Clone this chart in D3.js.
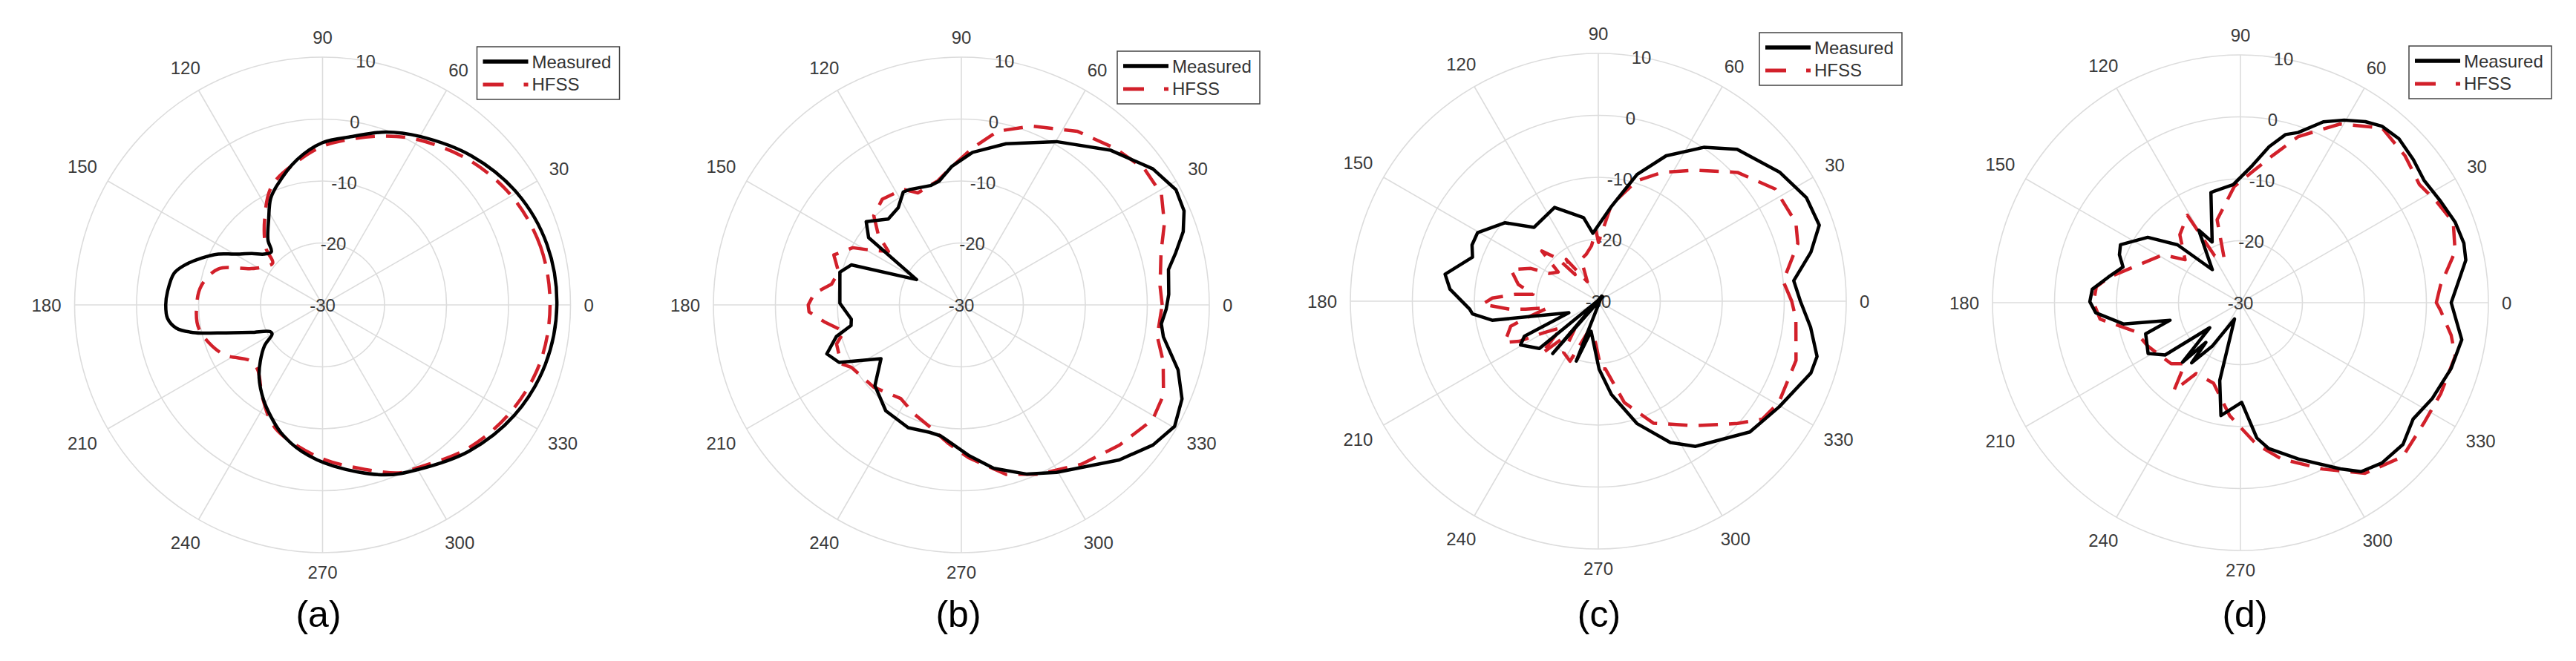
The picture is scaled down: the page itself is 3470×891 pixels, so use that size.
<!DOCTYPE html>
<html>
<head>
<meta charset="utf-8">
<script src="https://cdn.jsdelivr.net/npm/d3@7"></script>
<style>
  body { margin: 0; background: #fff; }
  svg { display: block; }
  text { font-family: "Liberation Sans", Arial, Helvetica, sans-serif; }
</style>
</head>
<body>
<script>
// [angle in degrees, gain in dB]
const measA = [[0,7.8],[15,7.5],[30,6.2],[45,4.0],[60,1.4],[70,-0.3],[80,-2.4],[90,-3.8],[100,-6.2],[111,-9.4],[116,-10.9],[122,-13.6],[130,-16.3],[134,-18.1],[139,-17.5],[144,-15.9],[150,-13.6],[154,-11.3],[159,-9.0],[164,-6.8],[168,-5.5],[175,-4.9],[180,-4.7],[185,-4.9],[189,-6.1],[192,-8.6],[195,-12.5],[201,-17.6],[207,-20.5],[210,-20.6],[215,-18.6],[222,-16.5],[229,-14.4],[238,-12.0],[245,-10.2],[252,-8.3],[262,-6.1],[274,-3.9],[290,-0.8],[300,0.7],[315,3.4],[330,5.7],[345,7.2]];
const hfssA = [[0,6.7],[15,6.4],[30,5.2],[45,3.2],[60,0.8],[70,-1.0],[80,-2.8],[90,-4.4],[100,-6.5],[113,-9.1],[124,-13.3],[135,-17.1],[140,-19.5],[148,-18.5],[153,-17.1],[161,-12.2],[171,-10.2],[180,-9.7],[191,-9.7],[206,-12.0],[218,-15.3],[225,-15.2],[237,-12.2],[249,-8.7],[268,-5.5],[282,-3.1],[295,-0.1],[300,0.4],[315,2.9],[330,4.9],[345,6.3]];

const measB = [[2.9,3.5],[9.7,3.9],[13.7,5.6],[18.3,7.7],[22.9,9.0],[28.2,9.3],[35.4,7.9],[46,4.7],[59.8,0.5],[74.5,-3.0],[85.8,-5.3],[94,-7.6],[100.2,-9.7],[104.5,-10.1],[114,-9.6],[117.2,-9.5],[123,-11.3],[130.4,-11.8],[138.8,-9.6],[144,-11.5],[150.5,-21.7],[160,-11.1],[164.9,-9.7],[179.2,-10.4],[187.4,-12.1],[190.6,-11.9],[194.2,-9.2],[200,-6.9],[205.2,-8.2],[213.8,-14.4],[223.1,-10.9],[234.5,-9.0],[246.6,-8.4],[256,-8.8],[261,-8.6],[272.7,-5.7],[281.2,-3.1],[291.2,-0.7],[299.6,1.1],[315.5,5.7],[323.8,8.3],[330.3,9.6],[336.9,8.7],[343.3,6.5],[351,3.0],[354.6,2.4],[358.8,3.05]];
const hfssB = [[0,2.4],[5.4,2.2],[14.7,3.3],[21.9,5.3],[29,6.9],[36.6,6.8],[45.6,5.4],[56.3,3.7],[68.6,1.0],[78.2,-1.35],[85.9,-4.6],[94.7,-7.9],[100.7,-9.6],[111.2,-10.6],[116.7,-9.1],[126.8,-8.7],[134.4,-9.8],[139.9,-12.5],[143.7,-15.4],[149,-12.8],[152.2,-10.2],[158.6,-7.9],[165,-9.5],[170.9,-8.8],[175.5,-6.2],[180,-5.3],[182.6,-5.4],[187,-7.7],[192.8,-10.6],[197.4,-8.9],[206.1,-8.4],[209.6,-9.6],[223.2,-10.6],[230.5,-11.5],[237,-12.0],[246.8,-10.8],[256.5,-9.5],[264.4,-7.6],[272.7,-5.3],[284.8,-1.7],[294.8,0.1],[307,2.2],[318.4,4.1],[329,6.0],[336,5.7],[344.4,3.8],[350.9,2.0]];

const measC = [[0,2.6],[6,1.7],[13,5.2],[19,7.7],[26.5,7.5],[35.5,5.9],[47.6,3.2],[55.6,0.1],[65,-4.1],[73,-8.6],[82,-14.5],[94.6,-19.0],[100,-16.3],[115,-13.3],[131,-14.2],[140,-10.3],[150.4,-7.6],[156,-7.7],[160.7,-8.5],[170,-4.9],[175.4,-6.0],[183.5,-9.2],[185.8,-9.6],[190.2,-12.6],[201.5,-24.9],[205.4,-16.8],[209.4,-15.6],[218.8,-17.8],[226,-31.0],[229,-18.8],[236,-31.0],[249.8,-19.7],[256.6,-25.0],[270.7,-19.0],[278,-14.8],[287.5,-9.3],[297,-4.4],[303.8,-1.8],[319.2,2.3],[329.7,3.8],[341.3,6.2],[345.8,6.4],[353,4.5]];
const hfssC = [[0,1.2],[6.2,0.0],[16.1,3.5],[21.7,4.3],[32.4,3.8],[42.8,0.6],[53.5,-3.7],[63.7,-6.8],[72.3,-9.6],[82.3,-14.3],[89.8,-20.5],[92,-18.5],[97,-21.0],[104.6,-22.2],[112.3,-22.7],[119.4,-26.4],[127.5,-21.5],[131,-24.3],[133.5,-20.5],[138.4,-17.8],[144,-22.0],[150.4,-20.9],[154.1,-17.9],[160.1,-15.0],[168.1,-16.8],[174,-19.4],[175.2,-16.6],[178.3,-12.9],[181.5,-11.3],[185.1,-15.6],[186.2,-18.2],[187.5,-21.8],[193.5,-17.7],[196,-15.3],[203.8,-13.5],[206.9,-15.7],[210.1,-19.9],[215.7,-22.7],[222.8,-17.5],[230,-24.0],[236,-20.0],[244.8,-19.3],[252,-25.0],[261.8,-24.7],[272.3,-19.1],[276,-19.0],[284.4,-13.1],[294.3,-8.4],[308,-4.5],[318.7,-0.1],[324.3,2.6],[330.7,3.4],[343.3,3.3],[354.9,2.0]];

const measD = [[0,4.0],[10.7,7.0],[14.9,7.3],[20.5,7.0],[26.9,6.2],[33.7,5.6],[39.6,6.2],[46,6.8],[51.3,6.5],[55.4,5.5],[60.4,3.9],[65.4,2.1],[71.3,-1.0],[75,-1.9],[79.6,-4.4],[85.1,-7.8],[93.5,-10.9],[103.1,-11.5],[105,-11.6],[115,-19.2],[119.9,-16.5],[130.4,-23.0],[137.4,-16.2],[144.8,-11.7],[154.2,-8.5],[158.4,-9.0],[163.1,-10.2],[169,-8.3],[174.8,-6.0],[179.6,-5.7],[184,-6.6],[190.3,-10.8],[194,-18.3],[198.2,-13.9],[208.8,-13.0],[214.8,-15.2],[219.2,-23.6],[225.8,-16.6],[229,-21.5],[231,-17.5],[237,-21.6],[250,-27.2],[255.1,-17.0],[260.2,-11.5],[270.7,-13.9],[276.9,-8.0],[281,-6.0],[290.3,-3.1],[301,1.3],[305.5,3.5],[311.4,4.5],[318.9,4.8],[326,3.6],[333.5,4.6],[342.6,5.6],[350.5,6.2]];
const hfssD = [[0,1.6],[5,2.4],[13.4,5.6],[20.7,6.7],[27.3,5.6],[33.4,4.6],[41.8,5.6],[51,6.3],[60.9,3.0],[70.8,-1.6],[77.5,-5.6],[84.9,-8.8],[93,-11.2],[105.7,-16.1],[110.2,-22.4],[118.8,-21.4],[121.2,-13.5],[131.7,-15.3],[142.2,-18.7],[148.3,-15.3],[160.4,-12.2],[168.9,-8.5],[173.7,-6.6],[180,-6.3],[186.7,-7.2],[195.3,-12.4],[205.2,-13.5],[221.4,-15.1],[227.7,-16.7],[232.9,-12.2],[238,-16.5],[251.5,-16.3],[264.5,-11.7],[276.4,-7.0],[284.7,-3.9],[296.4,0.0],[306.1,4.1],[316.5,6.1],[326.7,5.4],[335.5,5.5],[346,5.7],[351.2,4.4],[357.8,2.3]];

const thetaTicks = [0,30,60,90,120,150,180,210,240,270,300,330];
const rTicks = [-30,-20,-10,0,10];
const captions = ["(a)","(b)","(c)","(d)"];
const seriesNames = ["Measured","HFSS"];

const W = 3470, H = 891, R = 334;
const RED = "#d2202a";

// panel centre, legend corner (relative to centre), caption x
const layout = [
  {cx:434.5, cy:411, lx:208, ly:-348, capx:429},
  {cx:1295, cy:411, lx:210, ly:-342, capx:1291},
  {cx:2153, cy:406, lx:217, ly:-362, capx:2154},
  {cx:3018, cy:408, lx:227, ly:-346, capx:3024}
];
const series = [[measA,hfssA],[measB,hfssB],[measC,hfssC],[measD,hfssD]];
const smooth = [true,false,false,false];

const svg = d3.select("body").append("svg")
  .attr("width", W).attr("height", H);
svg.append("rect").attr("width", W).attr("height", H).attr("fill", "#fff");

const rScale = d3.scaleLinear().domain([-30,10]).range([0,R]);
const rad = d => (90 - d) * Math.PI / 180;   // for cartesian (math) use
const toD3 = d => d * Math.PI / 180;

layout.forEach(function(p, i){
  const g = svg.append("g").attr("transform", "translate(" + p.cx + "," + p.cy + ")");

  // grid circles
  g.selectAll("circle.grid").data(rTicks.slice(1)).enter()
    .append("circle")
    .attr("r", d => rScale(d))
    .attr("fill", "none")
    .attr("stroke", "#dcdcdc")
    .attr("stroke-width", 1.6);

  // spokes
  g.selectAll("line.spoke").data(thetaTicks).enter()
    .append("line")
    .attr("x1", 0).attr("y1", 0)
    .attr("x2", d => R * Math.cos(toD3(d)))
    .attr("y2", d => -R * Math.sin(toD3(d)))
    .attr("stroke", "#dcdcdc")
    .attr("stroke-width", 1.6);

  // angle labels
  g.selectAll("text.theta").data(thetaTicks).enter()
    .append("text")
    .attr("text-anchor", "middle")
    .attr("dy", "0.36em")
    .style("font-size", "24px")
    .attr("fill", "#3a3a3a")
    .text(d => d)
    .each(function(d){
      const hw = this.getComputedTextLength() / 2, hh = 8.6;
      const c = Math.cos(toD3(d)), s = Math.sin(toD3(d));
      const dist = R + 18 + Math.abs(c) * hw + Math.abs(s) * hh;
      d3.select(this).attr("x", dist * c).attr("y", -dist * s);
    });

  // radial labels at 80 degrees
  g.selectAll("text.rt").data(rTicks).enter()
    .append("text")
    .attr("text-anchor", "middle")
    .attr("dy", "0.36em")
    .style("font-size", "24px")
    .attr("fill", "#3a3a3a")
    .attr("x", d => rScale(d) * Math.cos(toD3(80)))
    .attr("y", d => -rScale(d) * Math.sin(toD3(80)))
    .text(d => d);

  // data lines
  const line = d3.lineRadial()
    .angle(d => rad(d[0]))
    .radius(d => rScale(d[1]))
    .curve(smooth[i] ? d3.curveCatmullRomClosed.alpha(0.5) : d3.curveLinearClosed);

  g.append("path")
    .attr("d", line(series[i][1]))
    .attr("fill", "none")
    .attr("stroke", RED)
    .attr("stroke-width", 4.5)
    .attr("stroke-dasharray", "26,15")
    .attr("stroke-linejoin", "round");

  g.append("path")
    .attr("d", line(series[i][0]))
    .attr("fill", "none")
    .attr("stroke", "#000")
    .attr("stroke-width", 4.5)
    .attr("stroke-linejoin", "round");

  // legend
  const lg = g.append("g").attr("transform", "translate(" + p.lx + "," + p.ly + ")");
  lg.append("rect")
    .attr("width", 192).attr("height", 71)
    .attr("fill", "#fff")
    .attr("stroke", "#444").attr("stroke-width", 1.5);
  lg.append("line").attr("x1", 8).attr("x2", 69).attr("y1", 20).attr("y2", 20)
    .attr("stroke", "#000").attr("stroke-width", 5.5);
  lg.append("line").attr("x1", 8).attr("x2", 69).attr("y1", 51).attr("y2", 51)
    .attr("stroke", RED).attr("stroke-width", 5)
    .attr("stroke-dasharray", "28,27,6");
  lg.selectAll("text").data(seriesNames).enter()
    .append("text")
    .attr("x", 74)
    .attr("y", (d, k) => 29 + k * 30)
    .style("font-size", "24px")
    .attr("fill", "#333")
    .text(d => d);

  // caption
  svg.append("text")
    .attr("x", p.capx).attr("y", 845)
    .attr("text-anchor", "middle")
    .style("font-size", "50px")
    .attr("fill", "#000")
    .text(captions[i]);
});
</script>
</body>
</html>
